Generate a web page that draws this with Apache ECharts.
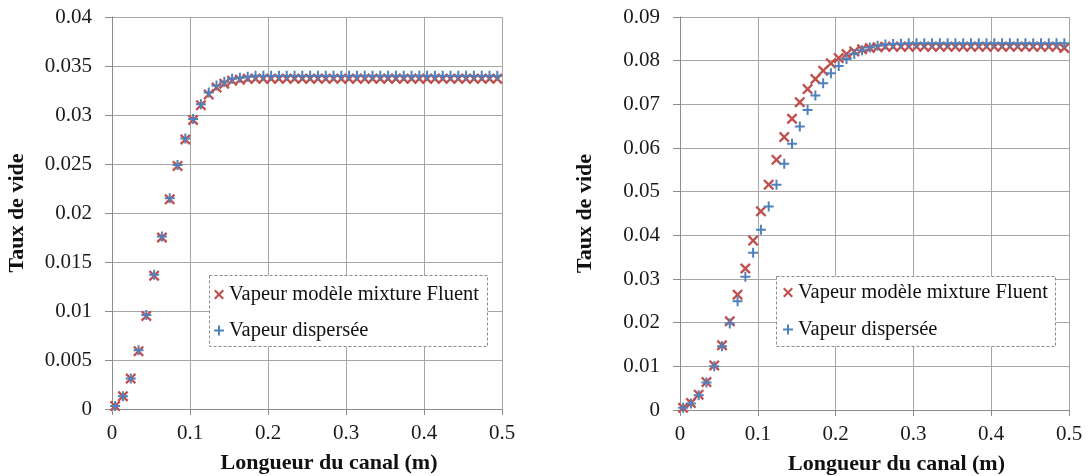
<!DOCTYPE html>
<html><head><meta charset="utf-8">
<script src="https://cdn.jsdelivr.net/npm/echarts@6/dist/echarts.min.js"></script>
<style>html,body{margin:0;padding:0;background:#fff}#c{width:1088px;height:476px}</style>
</head><body><div id="c"></div>
<script>
// Channel length positions (m)
const xPositions = [0.004,0.014,0.024,0.034,0.044,0.054,0.064,0.074,0.084,0.094,
  0.104,0.114,0.124,0.134,0.144,0.154,0.164,0.174,0.184,0.194,
  0.204,0.214,0.224,0.234,0.244,0.254,0.264,0.274,0.284,0.294,
  0.304,0.314,0.324,0.334,0.344,0.354,0.364,0.374,0.384,0.394,
  0.404,0.414,0.424,0.434,0.444,0.454,0.464,0.474,0.484,0.494];

// Left chart
const leftFluent = [0.0003,0.0013,0.0031,0.0059,0.0095,0.0136,0.0175,0.0214,0.0248,0.0275,
  0.0295,0.0310,0.0321,0.0328,0.0332,0.0335,0.0336,0.0337,0.0337,0.0337,
  0.0337,0.0337,0.0337,0.0337,0.0337,0.0337,0.0337,0.0337,0.0337,0.0337,
  0.0337,0.0337,0.0337,0.0337,0.0337,0.0337,0.0337,0.0337,0.0337,0.0337,
  0.0337,0.0337,0.0337,0.0337,0.0337,0.0337,0.0337,0.0337,0.0337,0.0337];
const leftDispersed = [0.0003,0.0013,0.0031,0.0060,0.0096,0.0137,0.0176,0.0215,0.0249,0.0276,
  0.0296,0.0311,0.0323,0.0330,0.0334,0.0337,0.0338,0.0339,0.0340,0.0340,
  0.0340,0.0340,0.0340,0.0340,0.0340,0.0340,0.0340,0.0340,0.0340,0.0340,
  0.0340,0.0340,0.0340,0.0340,0.0340,0.0340,0.0340,0.0340,0.0340,0.0340,
  0.0340,0.0340,0.0340,0.0340,0.0340,0.0340,0.0340,0.0340,0.0340,0.0340];

// Right chart
const rightFluent = [0.0005,0.0016,0.0035,0.0064,0.0102,0.0148,0.0203,0.0264,0.0324,0.0388,
  0.0455,0.0516,0.0573,0.0625,0.0667,0.0705,0.0735,0.0758,0.0777,0.0794,
  0.0806,0.0815,0.0821,0.0826,0.0829,0.0831,0.0832,0.0832,0.0832,0.0832,
  0.0832,0.0832,0.0832,0.0832,0.0832,0.0832,0.0832,0.0832,0.0832,0.0832,
  0.0832,0.0832,0.0832,0.0832,0.0832,0.0832,0.0832,0.0832,0.0832,0.0829];
const rightDispersed = [0.0005,0.0015,0.0034,0.0063,0.0100,0.0146,0.0198,0.0249,0.0305,0.0360,
  0.0413,0.0466,0.0516,0.0564,0.0610,0.0649,0.0687,0.0720,0.0748,0.0771,
  0.0788,0.0804,0.0815,0.0824,0.0830,0.0834,0.0837,0.0838,0.0839,0.0840,
  0.0840,0.0840,0.0840,0.0840,0.0840,0.0840,0.0840,0.0840,0.0840,0.0840,
  0.0840,0.0840,0.0840,0.0840,0.0840,0.0840,0.0840,0.0840,0.0840,0.0840];

const seriesNames = ['Vapeur modèle mixture Fluent', 'Vapeur dispersée'];
const xTitle = 'Longueur du canal (m)';
const yTitle = 'Taux de vide';

const RED = '#C0504D', BLUE = '#4F81BD';
const X_ICON = 'path://M0,1.5L1.5,0L5,3.5L8.5,0L10,1.5L6.5,5L10,8.5L8.5,10L5,6.5L1.5,10L0,8.5L3.5,5Z';
const PLUS_ICON = 'path://M4,0H6V4H10V6H6V10H4V6H0V4H4Z';
const FONT = 'Liberation Serif';
const AX = '#8C8C8C', GRID = '#A6A6A6';

function pairs(xs, ys) { return xs.map((x, i) => [x, ys[i]]); }

function xAxisCfg(gi) {
  return {
    type: 'value', gridIndex: gi, min: 0, max: 0.5, interval: 0.1,
    axisLine: { show: true, lineStyle: { color: AX } },
    axisTick: { show: true, length: 6, lineStyle: { color: AX } },
    splitLine: { show: true, lineStyle: { color: GRID } },
    axisLabel: { fontFamily: FONT, fontSize: 21, color: '#1a1a1a', margin: 14 },
    name: xTitle, nameLocation: 'middle', nameGap: 43,
    nameTextStyle: { fontFamily: FONT, fontWeight: 'bold', fontSize: 22, color: '#111', padding: [0, 0, 0, 44] }
  };
}
function yAxisCfg(gi, max, interval) {
  return {
    type: 'value', gridIndex: gi, min: 0, max: max, interval: interval,
    axisLine: { show: true, lineStyle: { color: AX } },
    axisTick: { show: true, length: 7, lineStyle: { color: AX } },
    splitLine: { show: true, lineStyle: { color: GRID } },
    axisLabel: { fontFamily: FONT, fontSize: 21, color: '#1a1a1a', margin: 20 },
    name: yTitle, nameLocation: 'middle', nameGap: 84,
    nameTextStyle: { fontFamily: FONT, fontWeight: 'bold', fontSize: 22, color: '#111' }
  };
}
function legendCfg(left, top, gap) {
  return {
    orient: 'vertical', left: left, top: top, padding: 0, itemGap: gap,
    itemWidth: 10, itemHeight: 10, selectedMode: false, z: 10,
    textStyle: { fontFamily: FONT, fontSize: 20.5, color: '#111' },
    data: [
      { name: seriesNames[0], icon: X_ICON, itemStyle: { color: RED } },
      { name: seriesNames[1], icon: PLUS_ICON, itemStyle: { color: BLUE } }
    ]
  };
}
function sc(name, gi, data, icon, color, size, z) {
  return {
    type: 'scatter', name: name, xAxisIndex: gi, yAxisIndex: gi,
    data: data, symbol: icon, symbolSize: size, itemStyle: { color: color, opacity: 1 },
    z: z, animation: false
  };
}

const chart = echarts.init(document.getElementById('c'), null, { renderer: 'canvas' });
chart.setOption({
  backgroundColor: '#fff',
  animation: false,
  grid: [
    { left: 112, top: 17, width: 390, height: 392, outerBoundsMode: 'none', containLabel: false },
    { left: 680, top: 17, width: 389, height: 393, outerBoundsMode: 'none', containLabel: false }
  ],
  xAxis: [xAxisCfg(0), xAxisCfg(1)],
  yAxis: [yAxisCfg(0, 0.04, 0.005), yAxisCfg(1, 0.09, 0.01)],
  legend: [legendCfg(214, 284, 15), legendCfg(783, 282, 16)],
  graphic: [
    { type: 'rect', left: 209, top: 275, z: 8, shape: { width: 278, height: 71 },
      style: { fill: '#fff', stroke: AX, lineWidth: 1, lineDash: [3, 2] } },
    { type: 'rect', left: 776, top: 276, z: 8, shape: { width: 279, height: 70 },
      style: { fill: '#fff', stroke: AX, lineWidth: 1, lineDash: [3, 2] } }
  ],
  series: [
    sc(seriesNames[0], 0, pairs(xPositions, leftFluent), X_ICON, RED, 11, 2),
    sc(seriesNames[1], 0, pairs(xPositions, leftDispersed), PLUS_ICON, BLUE, 10, 3),
    sc(seriesNames[0], 1, pairs(xPositions, rightFluent), X_ICON, RED, 11, 2),
    sc(seriesNames[1], 1, pairs(xPositions, rightDispersed), PLUS_ICON, BLUE, 10, 3)
  ]
});
</script>
</body></html>
